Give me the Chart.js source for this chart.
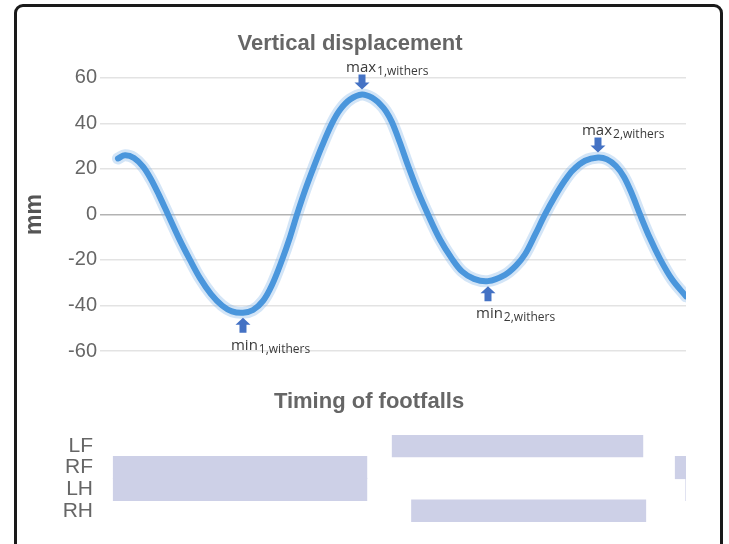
<!DOCTYPE html>
<html><head><meta charset="utf-8">
<script src="https://cdn.jsdelivr.net/npm/chart.js@4"></script>
<style>
html,body{margin:0;padding:0;background:#fff;width:729px;height:544px;overflow:hidden;}
#frame{position:absolute;left:14px;top:4px;width:709px;height:600px;box-sizing:border-box;border:3px solid #1a1a1a;border-radius:9px;}
#c1{position:absolute;left:0;top:0;}
#c2{position:absolute;left:0;top:372px;}
</style></head><body>
<div id="frame"></div>
<canvas id="c1" width="729" height="380"></canvas>
<canvas id="c2" width="729" height="172"></canvas>
<script>
// ---- data (x = % of stride, y = withers vertical displacement in mm) ----
const stridePct = [3.07,4.27,5.80,7.34,8.70,10.07,11.60,13.48,15.36,17.06,
  18.94,20.82,22.53,24.40,26.11,27.82,29.35,31.06,32.42,33.62,
  34.98,36.35,37.88,39.59,40.96,42.66,44.71,46.42,47.78,48.81,
  49.83,51.19,52.56,54.27,55.97,58.02,60.07,61.77,63.82,66.21,
  69.11,70.99,72.53,74.23,75.94,77.65,79.35,80.72,82.76,84.98,
  86.52,88.05,89.42,90.78,92.15,93.86,95.56,97.61,100];
const withersMm = [24.6,26,24.8,21,15.5,8.5,0,-10.5,-20,-28,
  -35,-40,-42.6,-43.2,-42,-38,-31,-20,-10,0,
  10.5,20,30,40,46,50.5,52.7,51.3,48.5,45.3,
  40.5,31.5,21.5,10,0,-11,-19.5,-25,-28.3,-29.3,
  -26.5,-22.5,-17.5,-9,0,8,15,19.5,23.6,25,
  24.2,21.3,16.5,9,0,-10.5,-19.5,-28.5,-36];
const yTickValues = [-60,-40,-20,0,20,40,60];

// annotations (extrema)
const annoMain = ['max','min','max','min'];
const annoSub  = ['1,withers','1,withers','2,withers','2,withers'];
const annoX    = [44.71,24.40,84.98,66.21];
const annoY    = [52.7,-43.2,25,-29.3];
const annoKind = ['max','min','max','min'];

// footfall timing (stance phases, % of stride)
const limbs = ['LF','RF','LH','RH'];
const stanceA = [[49.8,92.7],[2.2,45.6],[2.2,45.6],[53.1,93.2]];
const stanceB = [null,[98.1,100],[99.9,100],null];

const TXT = '#666666';
const FONT = '"Liberation Sans", Arial, sans-serif';

const pts = stridePct.map((x,i)=>({x, y: withersMm[i]}));

const annoPlugin = {
  id:'anno',
  afterDatasetsDraw(chart){
    const ctx = chart.ctx, xs = chart.scales.x, ys = chart.scales.y;
    ctx.save();
    for(let i=0;i<annoMain.length;i++){
      const px = xs.getPixelForValue(annoX[i]);
      const py = ys.getPixelForValue(annoY[i]);
      const isMax = annoKind[i]==='max';
      const dir = isMax ? 1 : -1;          // 1: arrow points down
      const tip = isMax ? py-5 : py+5;
      const tail = tip - dir*15;
      const neck = tip - dir*7;
      ctx.fillStyle = '#4472c4';
      ctx.beginPath();
      ctx.moveTo(px-3.5, tail);
      ctx.lineTo(px+3.5, tail);
      ctx.lineTo(px+3.5, neck);
      ctx.lineTo(px+7.5, neck);
      ctx.lineTo(px, tip);
      ctx.lineTo(px-7.5, neck);
      ctx.lineTo(px-3.5, neck);
      ctx.closePath();
      ctx.fill();
      const base = isMax ? py-23 : py+37;
      const left = isMax ? px-16 : px-12;
      ctx.fillStyle = '#3a3a3a';
      ctx.textBaseline = 'alphabetic';
      ctx.textAlign = 'left';
      ctx.font = '15px "Open Sans", sans-serif';
      ctx.fillText(annoMain[i], left, base);
      const w = ctx.measureText(annoMain[i]).width;
      ctx.font = '12px "Open Sans", sans-serif';
      ctx.fillText(annoSub[i], left + w + 1, base + 3);
    }
    ctx.restore();
  }
};

new Chart(document.getElementById('c1'), {
  type:'line',
  data:{datasets:[
    {data:pts, borderColor:'#4a96dc', borderWidth:6, pointRadius:0, tension:0.35, borderCapStyle:'round', borderJoinStyle:'round', fill:false, order:0},
    {data:pts, borderColor:'rgba(120,175,232,0.33)', borderWidth:12, pointRadius:0, tension:0.35, borderCapStyle:'round', borderJoinStyle:'round', fill:false, order:1}
  ]},
  options:{
    responsive:false, animation:false,
    layout:{padding:{left:14, right:43, top:0, bottom:29}},
    plugins:{
      legend:{display:false}, tooltip:{enabled:false},
      title:{display:true, text:'Vertical displacement', color:TXT, font:{family:FONT, size:22, weight:'bold'}, padding:{top:31, bottom:20.5}}
    },
    scales:{
      x:{type:'linear', min:0, max:100, display:false},
      y:{min:-60, max:60,
        afterBuildTicks(s){ s.ticks = yTickValues.map(v=>({value:v})); },
        afterFit(s){ s.width = 86; },
        ticks:{color:TXT, font:{family:FONT, size:20}, padding:3},
        grid:{drawTicks:false, lineWidth:1.5, color:c=> (c.tick && c.tick.value===0) ? '#b3b3b3' : '#e3e3e3'},
        border:{display:false},
        title:{display:true, text:'mm', color:'#555', font:{family:FONT, size:23, weight:'bold'}, padding:{top:7, bottom:0}}
      }
    }
  },
  plugins:[annoPlugin]
});

new Chart(document.getElementById('c2'), {
  type:'bar',
  data:{labels:limbs, datasets:[
    {data:stanceA, backgroundColor:'#cdd0e7', grouped:false, barPercentage:1.06, categoryPercentage:1},
    {data:stanceB, backgroundColor:'#cdd0e7', grouped:false, barPercentage:1.06, categoryPercentage:1}
  ]},
  options:{
    indexAxis:'y', responsive:false, animation:false,
    layout:{padding:{left:52, right:43, top:0, bottom:22}},
    plugins:{
      legend:{display:false}, tooltip:{enabled:false},
      title:{display:true, text:'Timing of footfalls', color:TXT, font:{family:FONT, size:22, weight:'bold'}, padding:{top:17, bottom:19.5}}
    },
    scales:{
      x:{type:'linear', min:0, max:100, display:false},
      y:{afterFit(s){ s.width = 48; },
        ticks:{color:TXT, font:{family:FONT, size:21}, padding:7, autoSkip:false},
        grid:{display:false, drawTicks:false}, border:{display:false}}
    }
  }
});
</script>
</body></html>
